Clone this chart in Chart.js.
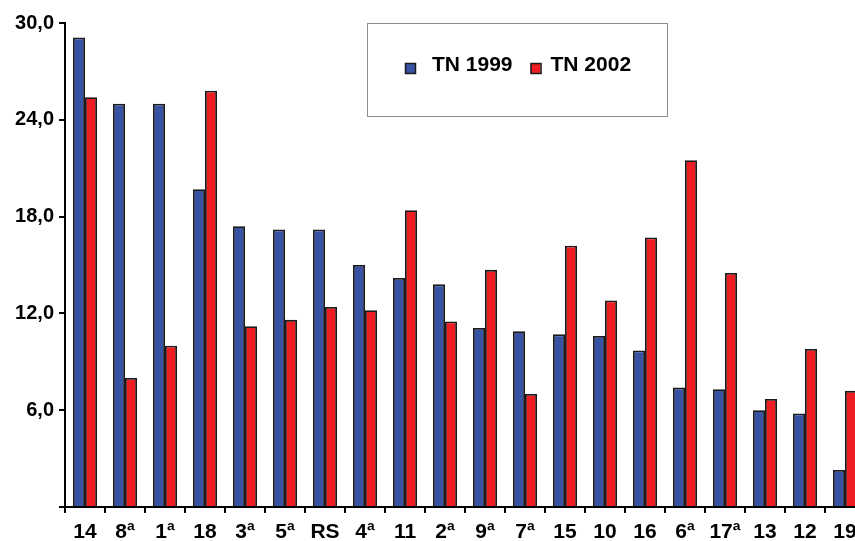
<!DOCTYPE html>
<html>
<head>
    <meta charset="utf-8">
    <title>TN 1999 / TN 2002</title>
    <script src="https://cdn.jsdelivr.net/npm/chart.js"></script>
    <style>
        html, body {
            margin: 0;
            padding: 0;
            background: #ffffff;
            overflow: hidden;
        }

        #main {
            position: absolute;
            left: 0;
            top: 0;
            width: 865px;
            height: 541px;
        }
    </style>
</head>
<body>
    <div id="main">
        <canvas id="myChart" width="865" height="541"></canvas>
    </div>

    <script>
        // categories (ordered as in the picture)
        var labels = ['14', '8ª', '1ª', '18', '3ª', '5ª', 'RS', '4ª', '11', '2ª',
            '9ª', '7ª', '15', '10', '16', '6ª', '17ª', '13', '12', '19'];

        // series values
        var tn1999 = [29.1, 25.0, 25.0, 19.7, 17.4, 17.2, 17.2, 15.0, 14.2, 13.8,
            11.1, 10.9, 10.7, 10.6, 9.7, 7.4, 7.3, 6.0, 5.8, 2.3];
        var tn2002 = [25.4, 8.0, 10.0, 25.8, 11.2, 11.6, 12.4, 12.2, 18.4, 11.5,
            14.7, 7.0, 16.2, 12.8, 16.7, 21.5, 14.5, 6.7, 9.8, 7.2];

        // y axis ticks
        var yTicks = [0, 6, 12, 18, 24, 30];

        var fontFamily = '"Liberation Sans", Arial, Helvetica, sans-serif';

        // boxed legend drawn inside the plot, like the original
        var boxLegend = {
            id: 'boxLegend',
            afterDraw: function (chart) {
                var ctx = chart.ctx;
                ctx.save();
                ctx.strokeStyle = '#8c8c8c';
                ctx.lineWidth = 1;
                ctx.strokeRect(367.5, 23.5, 300, 93);

                ctx.font = 'bold 21px ' + fontFamily;
                ctx.textBaseline = 'alphabetic';
                var x = 405;
                chart.data.datasets.forEach(function (ds) {
                    ctx.fillStyle = ds.backgroundColor;
                    ctx.fillRect(x, 63, 10, 10);
                    ctx.strokeStyle = '#1a1a1a';
                    ctx.lineWidth = 1.5;
                    ctx.strokeRect(x + 0.5, 63.5, 10, 10);
                    ctx.fillStyle = '#000';
                    var tx = (x === 405) ? 432 : x + 20;
                    ctx.fillText(ds.label, tx, 71);
                    x = tx + ctx.measureText(ds.label).width + 18;
                });
                ctx.restore();
            }
        };

        var ctx = document.getElementById('myChart').getContext('2d');
        var chart = new Chart(ctx, {
            type: 'bar',
            data: {
                labels: labels,
                datasets: [
                    {
                        label: 'TN 1999',
                        data: tn1999,
                        backgroundColor: '#3953a4',
                        borderColor: '#1a1a1a',
                        borderWidth: 1.8
                    },
                    {
                        label: 'TN 2002',
                        data: tn2002,
                        backgroundColor: '#ee1d24',
                        borderColor: '#1a1a1a',
                        borderWidth: 1.8
                    }
                ]
            },
            options: {
                responsive: false,
                animation: false,
                layout: {
                    padding: { top: 23, right: 0, bottom: 0, left: 0 }
                },
                datasets: {
                    bar: {
                        categoryPercentage: 0.6,
                        barPercentage: 1.0
                    }
                },
                scales: {
                    x: {
                        grid: {
                            offset: true,
                            drawOnChartArea: false,
                            color: '#000',
                            lineWidth: 2,
                            tickLength: 6
                        },
                        border: { color: '#000', width: 2 },
                        ticks: {
                            color: '#000',
                            padding: 7,
                            maxRotation: 0,
                            autoSkip: false,
                            font: { family: fontFamily, size: 21, weight: 'bold' }
                        },
                        afterFit: function (scale) {
                            scale.height = 34;
                        }
                    },
                    y: {
                        min: 0,
                        max: 30,
                        afterBuildTicks: function (scale) {
                            scale.ticks = yTicks.map(function (v) { return { value: v }; });
                        },
                        grid: {
                            drawOnChartArea: false,
                            color: '#000',
                            lineWidth: 2,
                            tickLength: 6
                        },
                        border: { color: '#000', width: 2 },
                        ticks: {
                            color: '#000',
                            padding: 5,
                            font: { family: fontFamily, size: 20, weight: 'bold' },
                            callback: function (v) {
                                if (v === 0) return '';
                                return v.toFixed(1).replace('.', ',');
                            }
                        },
                        afterFit: function (scale) {
                            scale.width = 65;
                        }
                    }
                },
                plugins: {
                    legend: { display: false },
                    tooltip: { enabled: false }
                }
            },
            plugins: [boxLegend]
        });
    </script>
</body>
</html>
